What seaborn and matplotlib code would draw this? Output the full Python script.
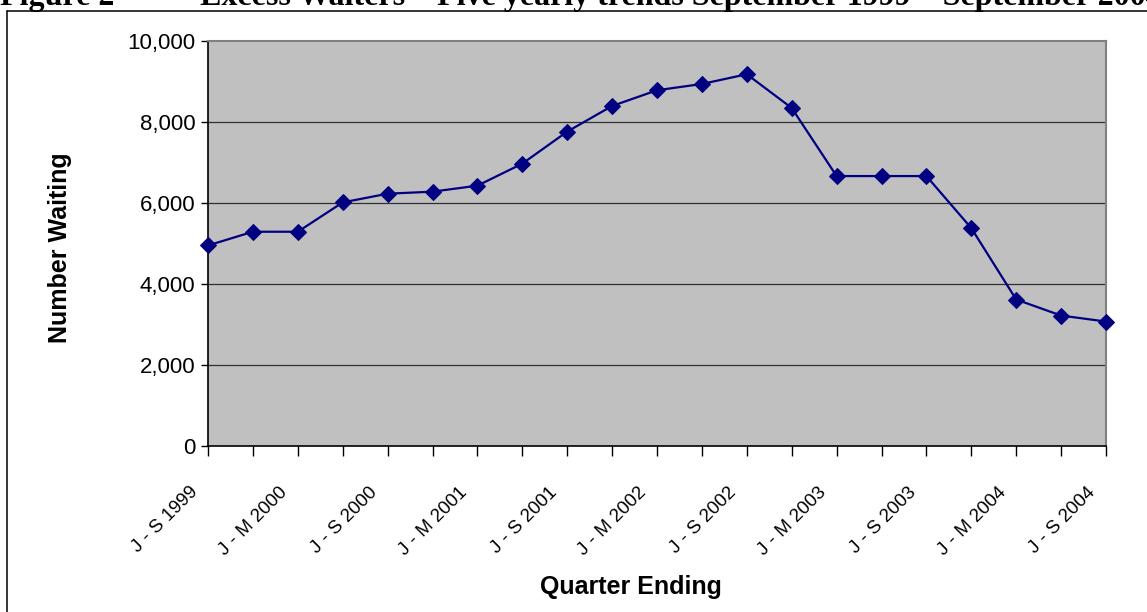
import matplotlib
matplotlib.use("Agg")
import matplotlib.pyplot as plt
import matplotlib.transforms as mtransforms
from matplotlib.lines import Line2D
import seaborn as sns
import pandas as pd

quarters = ["J - S 1999", "O - D 1999", "J - M 2000", "A - J 2000", "J - S 2000",
            "O - D 2000", "J - M 2001", "A - J 2001", "J - S 2001", "O - D 2001",
            "J - M 2002", "A - J 2002", "J - S 2002", "O - D 2002", "J - M 2003",
            "A - J 2003", "J - S 2003", "O - D 2003", "J - M 2004", "A - J 2004",
            "J - S 2004"]
waiting = [4946, 5284, 5284, 6007, 6222, 6272, 6420, 6963, 7753, 8385, 8773,
           8928, 9168, 8336, 6657, 6657, 6657, 5373, 3612, 3217, 3069]
y_ticks = [0, 2000, 4000, 6000, 8000, 10000]
y_ticklabels = ["0", "2,000", "4,000", "6,000", "8,000", "10,000"]

sns.set_style("ticks")
plt.rcParams['font.family'] = ['Liberation Sans', 'DejaVu Sans']
plt.rcParams['text.color'] = 'black'
plt.rcParams['axes.labelcolor'] = 'black'
plt.rcParams['xtick.color'] = 'black'
plt.rcParams['ytick.color'] = 'black'

W, H = 1147, 612
fig = plt.figure(figsize=(W / 100, H / 100), dpi=100)
ax = fig.add_axes([208 / W, 1 - 446 / H, (1106 - 208) / W, (446 - 40.5) / H])
ax.set_facecolor("#C0C0C0")

df = pd.DataFrame({"pos": range(len(quarters)), "value": waiting})
sns.lineplot(data=df, x="pos", y="value", ax=ax, color="#000080", linewidth=1.6,
             marker="D", markersize=8.5, markeredgecolor="#000080",
             markerfacecolor="#000080", clip_on=False, zorder=5)

ax.set_xlim(0, len(quarters) - 1)
ax.set_ylim(0, 10000)
ax.set_yticks(y_ticks)
ax.set_yticklabels(y_ticklabels, fontsize=16, color="black")
ax.set_xticks(range(len(quarters)))
ax.set_xticklabels([q if i % 2 == 0 else "" for i, q in enumerate(quarters)],
                   fontsize=13.5, rotation=45, ha="right", va="top",
                   rotation_mode="anchor", color="black")
ax.tick_params(axis="y", length=5, width=1, color="black", pad=4)
ax.tick_params(axis="x", length=7, width=1, color="black", pad=20)
offset = mtransforms.ScaledTranslation(-19 / 100, 0, fig.dpi_scale_trans)
for lab in ax.get_xticklabels():
    lab.set_transform(lab.get_transform() + offset)

for yv in y_ticks[1:-1]:
    ax.axhline(yv, color="#303030", linewidth=0.9, zorder=1)

for side in ["left", "bottom"]:
    ax.spines[side].set_color("black")
    ax.spines[side].set_linewidth(1.2)
for side in ["top", "right"]:
    ax.spines[side].set_visible(True)
    ax.spines[side].set_color("#808080")
    ax.spines[side].set_linewidth(1.5)

ax.set_xlabel("")
ax.set_ylabel("")
fig.text(631 / W, 1 - 587 / H, "Quarter Ending", fontsize=18, fontweight="bold",
         ha="center", va="center", color="black")
fig.text(60 / W, 1 - 248 / H, "Number Waiting", fontsize=18, fontweight="bold",
         ha="center", va="center", rotation=90, color="black")

# Title (partly cropped at the top of the image)
fig.text(0 / W, 1 - 5 / H, "Figure 2", fontsize=23, fontweight="bold",
         family=["Liberation Serif", "DejaVu Serif"], ha="left", va="baseline",
         color="black")
fig.text(200 / W, 1 - 5 / H,
         "Excess Waiters \u2013 Five yearly trends September 1999 \u2013 September 2004",
         fontsize=23, fontweight="bold", family=["Liberation Serif", "DejaVu Serif"],
         ha="left", va="baseline", color="black")

# Chart-area frame (left and top edges visible)
fig.add_artist(Line2D([7 / W, 7 / W], [-0.1, 1 - 11 / H], color="black", linewidth=1.1))
fig.add_artist(Line2D([7 / W, 1.1], [1 - 11 / H, 1 - 11 / H], color="black", linewidth=1.1))

fig.savefig("out.png", dpi=100)
